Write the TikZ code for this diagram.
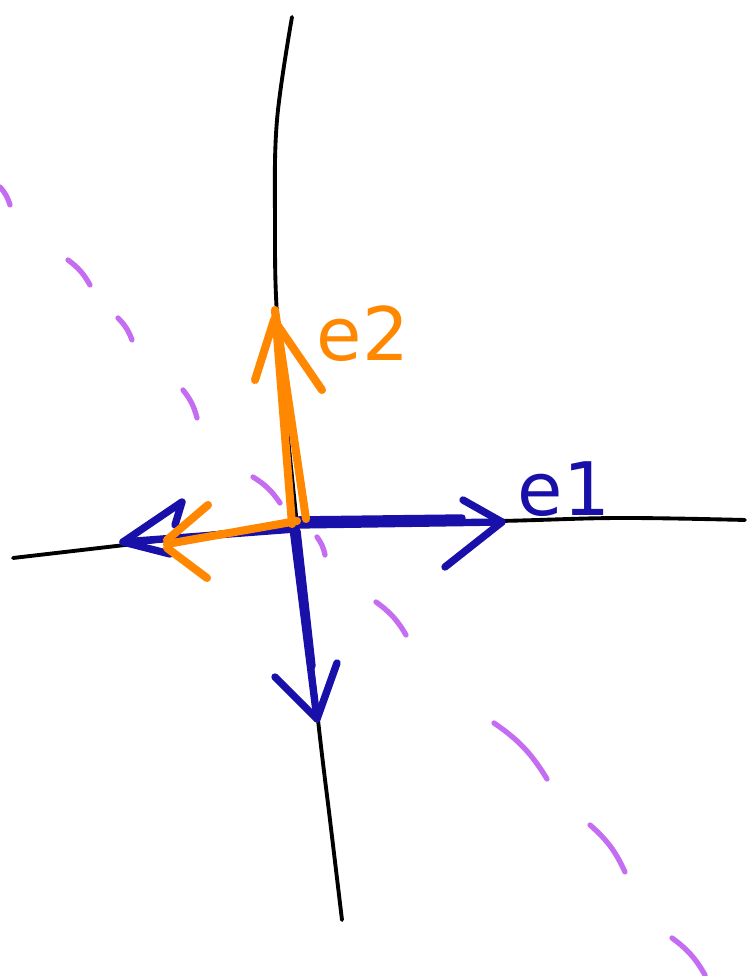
\documentclass[tikz,border=0pt]{standalone}
\usepackage{tikz}
\usepackage{fontspec}
\setsansfont{DejaVu Sans}
\usetikzlibrary{positioning, arrows.meta}
\definecolor{skblue}{HTML}{1810A8}
\definecolor{skorange}{HTML}{FF8800}
\definecolor{skpurple}{HTML}{C46CF2}

\begin{document}
\begin{tikzpicture}[
    line cap=round, line join=round,
    axis/.style={draw=black, line width=1.1pt},
    bluevec/.style={draw=skblue, line width=2.1pt},
    orangevec/.style={draw=skorange, line width=2.3pt},
    level/.style={draw=skpurple, line width=1.5pt},
    lab/.style={font=\sffamily\fontsize{21}{21}\selectfont, inner sep=0pt},
  ]
  \useasboundingbox (0,0) rectangle (7.48,9.76);

  % ----- coordinate curves -----
  \coordinate (O) at (2.97,4.51);
  \draw[axis] plot[smooth, tension=0.6] coordinates
    {(2.92,9.59) (2.77,8.56) (2.75,7.56) (2.78,6.46) (O) (3.18,2.56) (3.30,1.56) (3.42,0.56)};
  \draw[axis] plot[smooth, tension=0.6] coordinates
    {(0.13,4.18) (1.25,4.31) (O) (5.00,4.55) (6.20,4.58) (7.45,4.56)};

  % ----- level curve, dashed by hand -----
  \foreach \xa/\ya/\xb/\yb in {0.00/7.89/0.10/7.71, 0.68/7.16/0.90/6.91,
      1.18/6.58/1.32/6.36, 1.83/5.86/1.97/5.58, 2.53/4.99/2.80/4.73,
      3.17/4.39/3.25/4.21, 3.76/3.74/4.06/3.41, 4.94/2.53/5.47/1.97,
      5.90/1.51/6.25/1.04, 6.72/0.38/7.05/0.01}{
    \draw[level] (\xa,\ya) to[bend left=12] (\xb,\yb);
  }

  % ----- blue basis: e1 and its mates -----
  \coordinate (R) at (5.02,4.54);
  \coordinate (L) at (1.23,4.34);
  \coordinate (D) at (3.17,2.57);
  \draw[bluevec] (O) -- (R);
  \draw[bluevec] (2.95,4.56) -- (4.62,4.58);
  \draw[bluevec] (4.63,4.76) -- (R) -- (4.45,4.09);
  \draw[bluevec] (2.95,4.47) -- (L);
  \draw[bluevec] (1.75,4.51) -- (1.82,4.74) -- (L) -- (1.70,4.22);
  \draw[bluevec] (2.93,4.48) -- (D);
  \draw[bluevec] (2.97,4.45) -- (3.12,3.10);
  \draw[bluevec] (2.75,2.99) -- (D) -- (3.37,3.13);
  \node[lab, text=skblue] (e1) at (5.64,4.87) {e1};

  % ----- orange basis: e2 and its mate -----
  \coordinate (U) at (2.75,6.66);
  \coordinate (W) at (1.67,4.32);
  \draw[orangevec] (2.92,4.52) -- (U) -- (3.06,4.57);
  \draw[orangevec] (2.55,5.96) -- (2.74,6.56) -- (3.22,5.86);
  \draw[orangevec] (2.97,4.55) -- (W);
  \draw[orangevec] (2.08,4.71) -- (1.67,4.36);
  \draw[orangevec] (1.67,4.28) -- (2.07,3.98);
  \node[lab, text=skorange] (e2) at (3.63,6.42) {e2};

\end{tikzpicture}
\end{document}
